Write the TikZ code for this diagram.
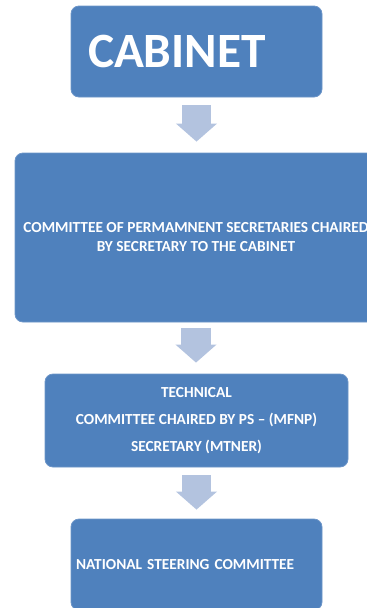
\documentclass[tikz,border=0pt]{standalone}
\usepackage{fontspec}
\setmainfont{Carlito}
\usetikzlibrary{arrows.meta}
\definecolor{boxblue}{HTML}{4F81BD}
\definecolor{boxline}{HTML}{6C95C8}
\definecolor{flowblue}{HTML}{B3C3DF}

\begin{document}
\begin{tikzpicture}[x=0.75pt, y=-0.75pt,
  every node/.style={draw=boxline, line width=0.6pt, fill=boxblue, rounded corners=6pt, text=white, inner sep=0pt},
  flow/.style={draw=flowblue, line width=22pt, -{Triangle[width=30pt, length=13.5pt]}}]
\useasboundingbox (0,0) rectangle (367,608);
\clip (0,0) rectangle (367,608);

\node (cab) at (196.5,51.5) [minimum width=188.25pt, minimum height=68.25pt, text width=162.75pt, align=left, font=\fontsize{37}{40}\bfseries\selectfont] {CABINET};
\node (cps) at (196,237.5) [minimum width=271.5pt, minimum height=126.75pt, align=center, font=\fontsize{11.5}{14.25}\bfseries\selectfont] {COMMITTEE OF PERMAMNENT SECRETARIES CHAIRED\\BY SECRETARY TO THE CABINET};
\node (tech) at (196.5,420.5) [minimum width=227.25pt, minimum height=69.75pt, align=center, font=\fontsize{11.5}{20}\bfseries\selectfont] {TECHNICAL\\COMMITTEE CHAIRED BY PS -- (MFNP)\\SECRETARY (MTNER)};
\node (nsc) at (196.5,564.5) [minimum width=188.25pt, minimum height=68.25pt, text width=180.75pt, align=left, font=\fontsize{11.5}{12}\bfseries\selectfont] {NATIONAL STEERING COMMITTEE};

\draw[flow, shorten <=6pt, shorten >=8.25pt] (cab.south) -- (cab.south |- cps.north);
\draw[flow, shorten <=4.5pt, shorten >=8.25pt] (cps.south) -- (cps.south |- tech.north);
\draw[flow, shorten <=6pt, shorten >=6.75pt] (tech.south) -- (tech.south |- nsc.north);

\end{tikzpicture}
\end{document}
